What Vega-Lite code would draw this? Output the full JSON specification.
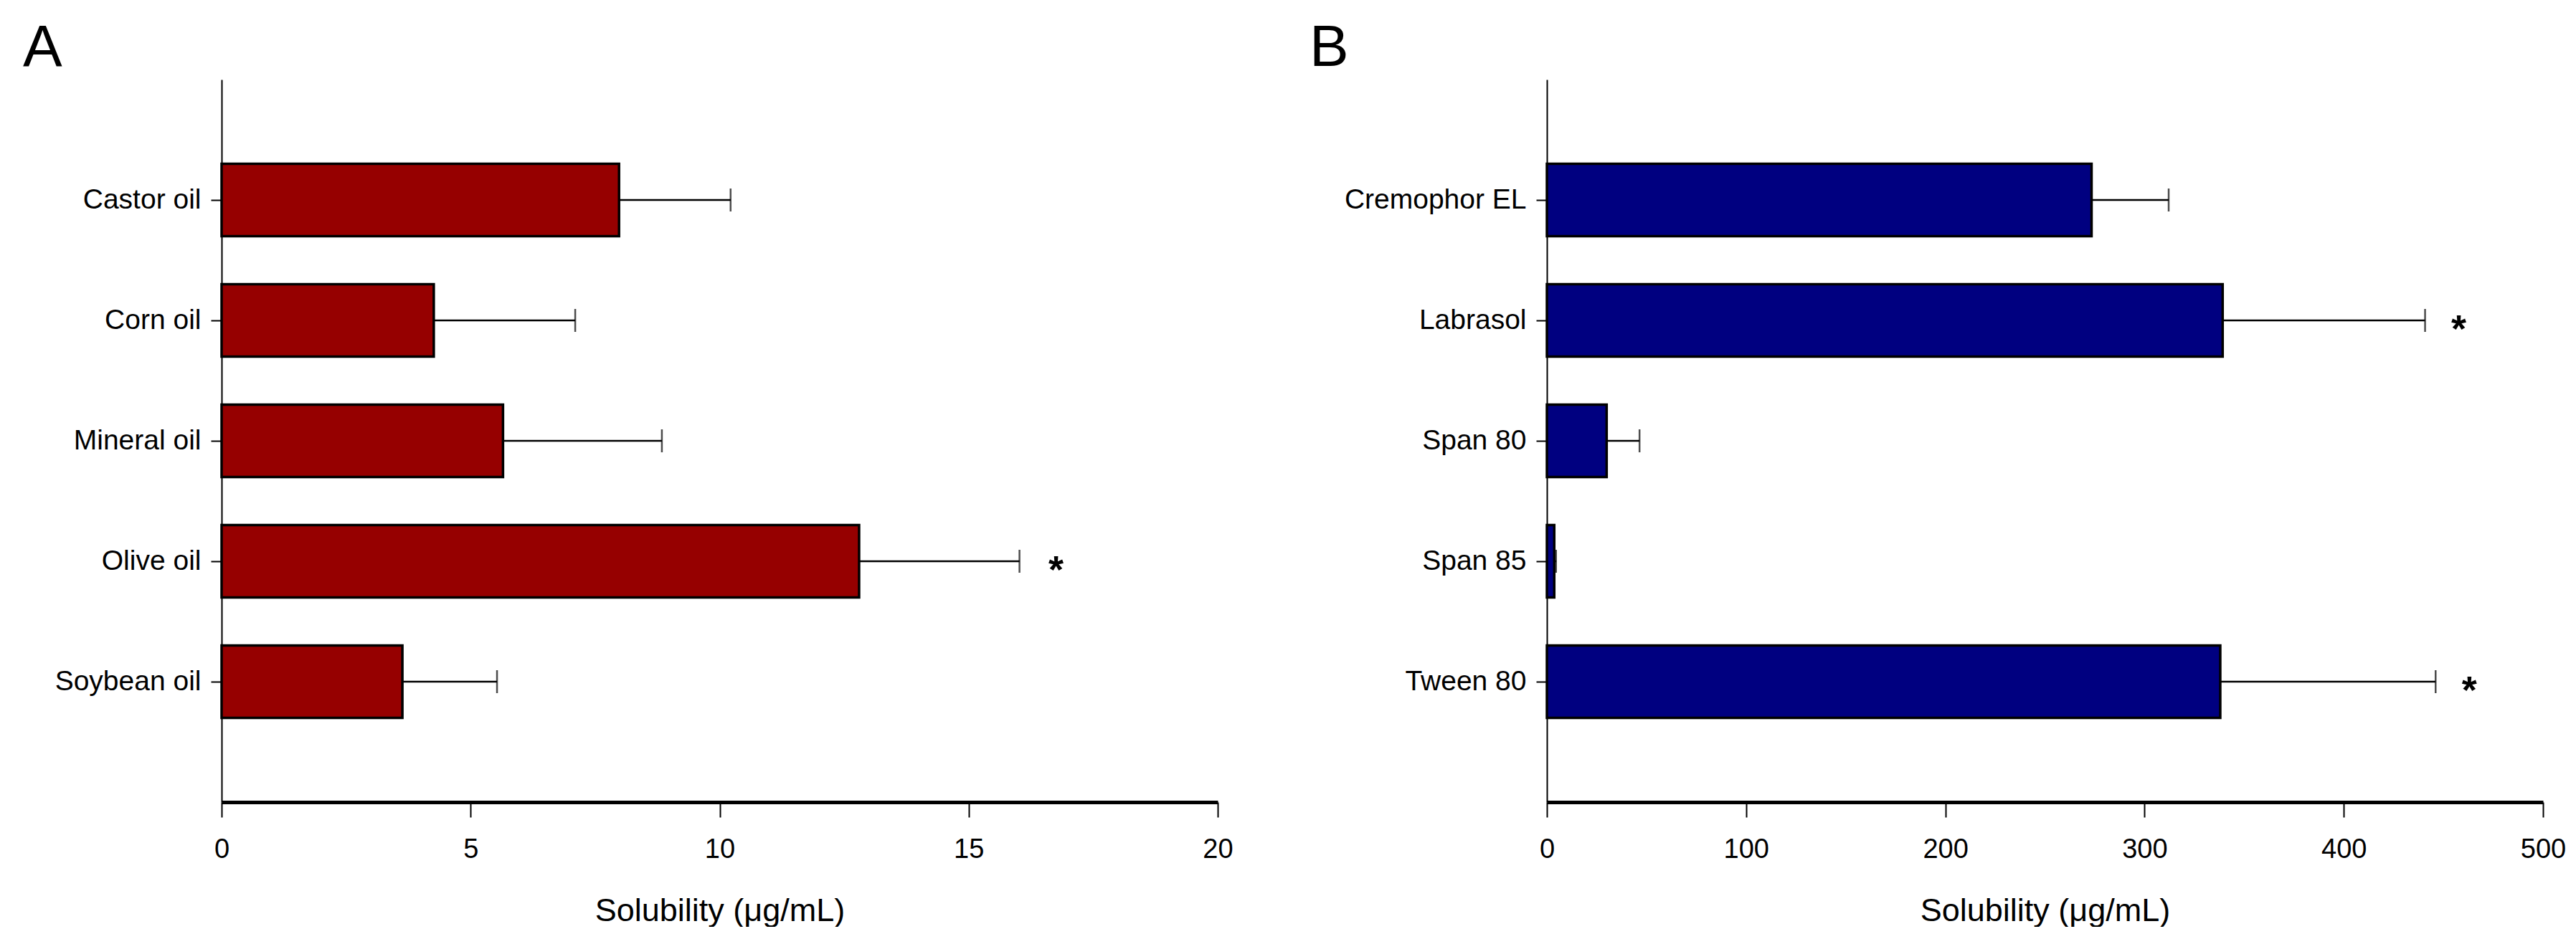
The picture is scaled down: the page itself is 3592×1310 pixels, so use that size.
{
  "$schema": "https://vega.github.io/schema/vega-lite/v6.json",
  "padding": {"left": 32, "top": 26, "right": 10, "bottom": 0},
  "background": "white",
  "spacing": 106,
  "config": {
    "view": {"stroke": null},
    "font": "Liberation Sans",
    "axis": {"labelFont": "Liberation Sans", "titleFont": "Liberation Sans", "labelColor": "black", "titleColor": "black", "domainColor": "black", "tickColor": "black", "grid": false, "labelLimit": 0},
    "title": {"font": "Liberation Sans", "fontSize": 82, "fontWeight": "normal", "color": "black", "anchor": "start", "frame": "group", "offset": 2}
  },
  "hconcat": [
    {
      "title": {"text": "A", "dx": -277},
      "width": 1389,
      "height": 1008,
      "data": {"values": [
        {"name": "Castor oil", "value": 7.98, "upper": 10.22, "sig": ""},
        {"name": "Corn oil", "value": 4.26, "upper": 7.1, "sig": ""},
        {"name": "Mineral oil", "value": 5.65, "upper": 8.84, "sig": ""},
        {"name": "Olive oil", "value": 12.8, "upper": 16.02, "sig": "*"},
        {"name": "Soybean oil", "value": 3.63, "upper": 5.53, "sig": ""}
      ]},
      "encoding": {
        "y": {"field": "name", "type": "nominal", "sort": null,
          "scale": {"paddingInner": 0.4, "paddingOuter": 0.7},
          "axis": {"title": null, "labelFontSize": 39, "tickSize": 15, "tickWidth": 2, "domainWidth": 2, "labelPadding": 14}}
      },
      "layer": [
        {"mark": {"type": "rule", "stroke": "black", "strokeWidth": 2.5},
         "encoding": {"x": {"field": "value", "type": "quantitative"}, "x2": {"field": "upper"}}},
        {"mark": {"type": "tick", "color": "black", "thickness": 2.5, "size": 32, "orient": "vertical"},
         "encoding": {"x": {"field": "upper", "type": "quantitative"}}},
        {"mark": {"type": "bar", "fill": "#960000", "stroke": "black", "strokeWidth": 3.5},
         "encoding": {
           "x": {"field": "value", "type": "quantitative",
             "scale": {"domain": [0, 20], "nice": false},
             "axis": {"title": "Solubility (μg/mL)", "values": [0, 5, 10, 15, 20], "format": "d", "labelFlush": false, "labelFontSize": 38, "titleFontSize": 45, "titleFontWeight": "normal", "tickSize": 21, "tickWidth": 2, "domainWidth": 5, "labelPadding": 26, "titlePadding": 44}}
         }},
        {"mark": {"type": "text", "fontSize": 54, "fontWeight": "bold", "color": "black", "align": "center", "baseline": "middle", "dx": 51, "dy": 14},
         "encoding": {"x": {"field": "upper", "type": "quantitative"}, "text": {"field": "sig"}}}
      ]
    },
    {
      "title": {"text": "B", "dx": -331},
      "width": 1389,
      "height": 1008,
      "data": {"values": [
        {"name": "Cremophor EL", "value": 273.4, "upper": 312.1, "sig": ""},
        {"name": "Labrasol", "value": 339.2, "upper": 440.8, "sig": "*"},
        {"name": "Span 80", "value": 30.0, "upper": 46.5, "sig": ""},
        {"name": "Span 85", "value": 3.7, "upper": 4.6, "sig": ""},
        {"name": "Tween 80", "value": 338.0, "upper": 446.1, "sig": "*"}
      ]},
      "encoding": {
        "y": {"field": "name", "type": "nominal", "sort": null,
          "scale": {"paddingInner": 0.4, "paddingOuter": 0.7},
          "axis": {"title": null, "labelFontSize": 39, "tickSize": 15, "tickWidth": 2, "domainWidth": 2, "labelPadding": 14}}
      },
      "layer": [
        {"mark": {"type": "rule", "stroke": "black", "strokeWidth": 2.5},
         "encoding": {"x": {"field": "value", "type": "quantitative"}, "x2": {"field": "upper"}}},
        {"mark": {"type": "tick", "color": "black", "thickness": 2.5, "size": 32, "orient": "vertical"},
         "encoding": {"x": {"field": "upper", "type": "quantitative"}}},
        {"mark": {"type": "bar", "fill": "#000080", "stroke": "black", "strokeWidth": 3.5},
         "encoding": {
           "x": {"field": "value", "type": "quantitative",
             "scale": {"domain": [0, 500], "nice": false},
             "axis": {"title": "Solubility (μg/mL)", "values": [0, 100, 200, 300, 400, 500], "format": "d", "labelFlush": false, "labelFontSize": 38, "titleFontSize": 45, "titleFontWeight": "normal", "tickSize": 21, "tickWidth": 2, "domainWidth": 5, "labelPadding": 26, "titlePadding": 44}}
         }},
        {"mark": {"type": "text", "fontSize": 54, "fontWeight": "bold", "color": "black", "align": "center", "baseline": "middle", "dx": 47, "dy": 14},
         "encoding": {"x": {"field": "upper", "type": "quantitative"}, "text": {"field": "sig"}}}
      ]
    }
  ]
}
